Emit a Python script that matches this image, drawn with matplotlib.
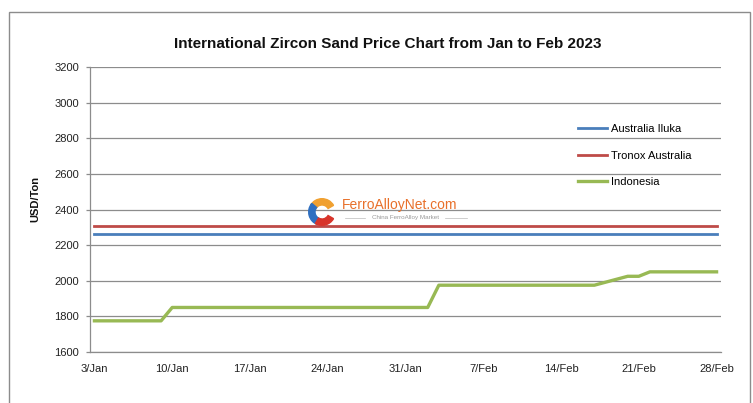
import numpy as np
import matplotlib
matplotlib.use("Agg")
import matplotlib.pyplot as plt
from matplotlib.patches import Wedge, Rectangle

plt.rcParams['font.family'] = ['Liberation Sans', 'DejaVu Sans']

# ----------------------------------------
# data (day 0 = 3/Jan)
# ----------------------------------------
tick_days = [0, 7, 14, 21, 28, 35, 42, 49, 56]
tick_labels = ["3/Jan", "10/Jan", "17/Jan", "24/Jan", "31/Jan", "7/Feb", "14/Feb", "21/Feb", "28/Feb"]

iluka_days = [0, 56]
iluka_vals = [2260, 2260]

tronox_days = [0, 56]
tronox_vals = [2310, 2310]

indo_days = [0, 6, 7, 30, 31, 45, 48, 49, 50, 56]
indo_vals = [1775, 1775, 1850, 1850, 1975, 1975, 2025, 2025, 2050, 2050]

y_ticks = list(range(1600, 3201, 200))

# ----------------------------------------
# figure
# ----------------------------------------
W, H = 753, 403
fig = plt.figure(figsize=(W / 100, H / 100), dpi=100)
fig.patch.set_facecolor("white")

# outer chart border
fig.patches.append(Rectangle((9 / W, -0.05), (750 - 9) / W, 1.05 - 12 / H,
                             transform=fig.transFigure, fill=False,
                             edgecolor="#8c8c8c", linewidth=1.0))

ax = fig.add_axes([90 / W, (H - 352) / H, (721 - 90) / W, (352 - 67) / H])

ax.plot(iluka_days, iluka_vals, color="#4a7ebb", lw=2.0, label="Australia Iluka")
ax.plot(tronox_days, tronox_vals, color="#be4b48", lw=2.0, label="Tronox Australia")
ax.plot(indo_days, indo_vals, color="#98b954", lw=2.4, label="Indonesia")

ax.set_xlim(-0.4, 56.4)
ax.set_ylim(1600, 3200)
ax.set_yticks(y_ticks)
ax.set_xticks(tick_days)
ax.set_xticklabels(tick_labels)
ax.tick_params(axis="both", labelsize=8, colors="#8c8c8c", labelcolor="#222222")
ax.tick_params(axis="x", length=0, pad=9)
ax.tick_params(axis="y", length=3, width=0.9, pad=5)
ax.grid(axis="y", color="#8c8c8c", lw=0.9)
ax.set_axisbelow(True)
for s in ["top", "right"]:
    ax.spines[s].set_visible(False)
for s in ["left", "bottom"]:
    ax.spines[s].set_color("#8c8c8c")
    ax.spines[s].set_linewidth(0.9)

fig.text(388 / W, 1 - 44 / H, "International Zircon Sand Price Chart from Jan to Feb 2023",
         ha="center", va="center", fontsize=11, fontweight="bold", color="#111111")
fig.text(35 / W, 1 - 199 / H, "USD/Ton", rotation=90, ha="center", va="center",
         fontsize=8, fontweight="bold", color="#111111")

fig.legend(loc="upper left", bbox_to_anchor=(578 / W, 1 - 124 / H), frameon=False,
           fontsize=8, handlelength=2.6, handletextpad=0.35, labelspacing=1.5,
           borderpad=0, borderaxespad=0)

# ----------------------------------------
# watermark
# ----------------------------------------
lax = fig.add_axes([308 / W, 1 - 226 / H, 28 / W, 28 / H])
lax.set_xlim(-1, 1)
lax.set_ylim(-1, 1)
lax.set_aspect("equal")
lax.axis("off")
lax.add_patch(Wedge((0, 0), 0.95, 30, 150, width=0.45, color="#f0a030"))
lax.add_patch(Wedge((0, 0), 0.95, 140, 250, width=0.45, color="#2e6fc0"))
lax.add_patch(Wedge((0, 0), 0.95, 240, 330, width=0.45, color="#d8342a"))

fig.text(342 / W, 1 - 205 / H, "FerroAlloyNet.com", ha="left", va="center",
         fontsize=10, color="#e8702a")
fig.text(405 / W, 1 - 218 / H, "China FerroAlloy Market", ha="center", va="center",
         fontsize=4.5, color="#999999")
fig.lines.append(plt.Line2D([345 / W, 365 / W], [1 - 218 / H] * 2,
                            transform=fig.transFigure, color="#bbbbbb", lw=0.5))
fig.lines.append(plt.Line2D([445 / W, 467 / W], [1 - 218 / H] * 2,
                            transform=fig.transFigure, color="#bbbbbb", lw=0.5))

fig.savefig("out.png", dpi=100)
